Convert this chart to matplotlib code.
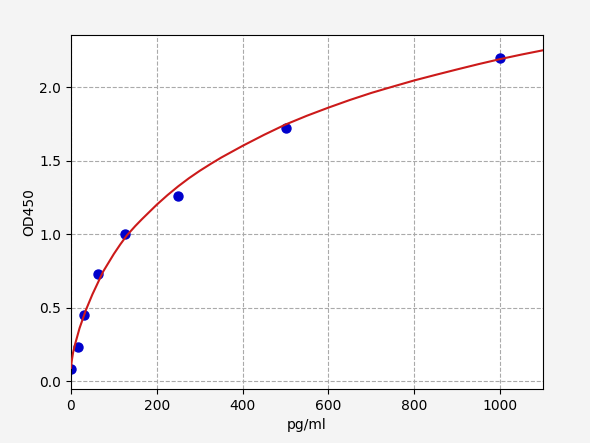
import numpy as np
import matplotlib
matplotlib.use('Agg')
import matplotlib.pyplot as plt

# standards (pg/ml) and measured OD450
conc = [0, 15.6, 31.25, 62.5, 125, 250, 500, 1000]
od = [0.08, 0.23, 0.45, 0.73, 1.0, 1.26, 1.72, 2.2]

# fitted curve
curve_x = [0, 1, 2.5, 5, 10, 20, 35, 50, 75, 100, 115, 130, 150, 165, 200,
           225, 250, 275, 300, 325, 350, 400, 450, 500, 550, 600, 650, 700,
           750, 800, 850, 900, 950, 1000, 1050, 1100]
curve_y = [0.09, 0.12, 0.15, 0.195, 0.255, 0.36, 0.485, 0.59, 0.745, 0.865,
           0.93, 0.99, 1.055, 1.10, 1.20, 1.265, 1.325, 1.38, 1.43, 1.476,
           1.52, 1.60, 1.675, 1.745, 1.805, 1.86, 1.912, 1.96, 2.003, 2.045,
           2.083, 2.12, 2.156, 2.19, 2.221, 2.25]

fig = plt.figure(figsize=(5.9, 4.43), dpi=100)
fig.patch.set_facecolor('#f4f4f4')
ax = fig.add_axes([0.1203, 0.1219, 0.8, 0.7991])
ax.set_facecolor('white')

ax.scatter(conc, od, color='#0000cc', s=42, zorder=2)
ax.plot(curve_x, curve_y, color='#cc1a1a', linewidth=1.5, zorder=3)

ax.set_xlim(0, 1100)
ax.set_ylim(-0.054, 2.354)
ax.set_xticks([0, 200, 400, 600, 800, 1000])
ax.set_yticks([0.0, 0.5, 1.0, 1.5, 2.0])
ax.set_xlabel('pg/ml')
ax.set_ylabel('OD450', labelpad=2)
ax.grid(True, linestyle='--', color='#aaaaaa', linewidth=0.8)

fig.savefig('out.png', dpi=100, facecolor=fig.get_facecolor())
